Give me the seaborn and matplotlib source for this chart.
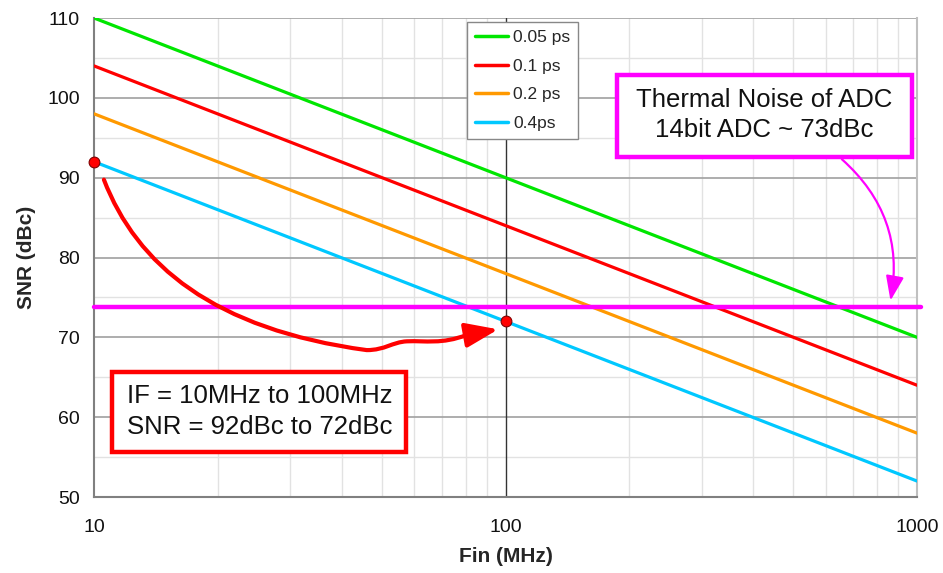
import numpy as np
import pandas as pd
import matplotlib
matplotlib.use("Agg")
import matplotlib.pyplot as plt
import seaborn as sns
from matplotlib.ticker import FixedLocator, NullFormatter
from matplotlib.path import Path
from matplotlib.patches import FancyArrowPatch, Rectangle

# ---- data ----
freq_mhz = [10, 1000]
jitter_labels = ["0.05 ps", "0.1 ps", "0.2 ps", "0.4ps"]
snr_005 = [110, 70]
snr_01 = [104, 64]
snr_02 = [98, 58]
snr_04 = [92, 52]
line_colors = ["#00e600", "#ff0000", "#ff9900", "#00c8ff"]

thermal_noise = 73.8
marker_x = [10, 100]
marker_y = [92, 72]

# hand-drawn annotation curve: bezier vertices (data coordinates)
curve_x = [10.57, 12.7, 19.5, 46.0, 51.0, 53.0, 57.6, 64.0, 70.0, 80.5, 96.0]
curve_y = [89.75, 79.1, 71.0, 68.4, 68.4, 69.4, 69.5, 69.6, 69.1, 70.3, 71.0]

x_ticks = [10, 100, 1000]
x_ticklabels = ["10", "100", "1000"]
y_ticks = [50, 60, 70, 80, 90, 100, 110]

series = [snr_005, snr_01, snr_02, snr_04]
df = pd.DataFrame({
    "Fin": np.tile(freq_mhz, len(series)),
    "SNR": np.concatenate(series),
    "jitter": np.repeat(jitter_labels, len(freq_mhz)),
})

sns.set_style("white")
plt.rcParams["font.family"] = ["Liberation Sans", "DejaVu Sans"]

fig = plt.figure(figsize=(9.43, 5.73), dpi=100)
ax = fig.add_axes([94 / 943, 1 - 497 / 573, 823 / 943, 479 / 573])

ax.set_xscale("log")
ax.set_xlim(10, 1000)
ax.set_ylim(50, 110)

# grids
for v in [55, 65, 75, 85, 95, 105]:
    ax.axhline(v, color="#e2e2e2", lw=1, zorder=0)
for dec in [10, 100]:
    for m in range(2, 10):
        ax.axvline(dec * m, color="#e2e2e2", lw=1, zorder=0)
for v in [60, 70, 80, 90, 100, 110]:
    ax.axhline(v, color="#a0a0a0", lw=1.2, zorder=0.5)
ax.axvline(100, color="#333333", lw=1.0, zorder=0.5)

sns.lineplot(data=df, x="Fin", y="SNR", hue="jitter", hue_order=jitter_labels,
             palette=line_colors, lw=2.3, ax=ax, zorder=3)

ax.axhline(thermal_noise, xmin=0, xmax=1.005, color="#ff00ff", lw=3.2, zorder=4, clip_on=False)

# red hand-drawn arrow along a bezier path
codes = [Path.MOVETO] + [Path.CURVE4] * 9 + [Path.LINETO]
red_path = Path(list(zip(curve_x, curve_y)), codes)
red_arrow = FancyArrowPatch(path=red_path,
                            arrowstyle="-|>,head_length=2.0,head_width=0.75",
                            mutation_scale=10, color="#ff0000", lw=3,
                            transform=ax.transData, zorder=5)
ax.add_patch(red_arrow)

ax.scatter(marker_x, marker_y, s=60, color="#ff0000", edgecolor="#800000",
           linewidth=0.8, zorder=6, clip_on=False)

# magenta curved arrow
ax.annotate("", xy=(862, 74.6), xytext=(657, 92.3),
            arrowprops=dict(arrowstyle="-|>,head_length=1.5,head_width=0.55",
                            color="#ff00ff", lw=1.6, shrinkA=0, shrinkB=0,
                            connectionstyle="arc3,rad=-0.28"),
            zorder=6)

# text boxes
ax.add_patch(Rectangle((0.6355, 0.7098), 0.9939 - 0.6355, 0.881 - 0.7098,
                       transform=ax.transAxes, facecolor="white",
                       edgecolor="#ff00ff", lw=3.2, zorder=7))
ax.text(0.8147, 0.797, "Thermal Noise of ADC\n14bit ADC ~ 73dBc", transform=ax.transAxes,
        ha="center", va="center", fontsize=18.5, linespacing=1.32, color="#111111",
        zorder=8)
ax.add_patch(Rectangle((0.0219, 0.094), 0.379 - 0.0219, 0.261 - 0.094,
                       transform=ax.transAxes, facecolor="white",
                       edgecolor="#ff0000", lw=3.2, zorder=7))
ax.text(0.0397, 0.1785, "IF = 10MHz to 100MHz\nSNR = 92dBc to 72dBc", transform=ax.transAxes,
        ha="left", va="center", fontsize=18.5, linespacing=1.32, color="#111111",
        zorder=8)

# legend
handles, labels = ax.get_legend_handles_labels()
leg = ax.legend(handles, labels, loc="upper left", bbox_to_anchor=(0.4532, 0.9916),
                borderaxespad=0, fontsize=12.5, frameon=True, fancybox=False,
                framealpha=1, edgecolor="#888888", handlelength=1.9,
                labelspacing=0.78, borderpad=0.45, handletextpad=0.3)
leg.get_frame().set_linewidth(1.0)
leg.set_zorder(9)
for h in leg.get_lines():
    h.set_linewidth(2.5)

# axes styling
ax.xaxis.set_major_locator(FixedLocator(x_ticks))
ax.xaxis.set_minor_formatter(NullFormatter())
ax.set_xticks(x_ticks)
ax.set_xticklabels(x_ticklabels)
ax.set_yticks(y_ticks)
ax.tick_params(axis="x", which="minor", length=0)
ax.tick_params(axis="both", which="major", labelsize=14, length=6, width=1,
               color="#888888", labelcolor="#111111", direction="out")
ax.tick_params(axis="x", pad=10)
ax.tick_params(axis="y", pad=4)

for side in ["left", "bottom"]:
    ax.spines[side].set_color("#808080")
    ax.spines[side].set_linewidth(1.5)
ax.spines["right"].set_color("#c0c0c0")
ax.spines["right"].set_linewidth(1.5)
ax.spines["top"].set_visible(False)

ax.set_xlabel("Fin (MHz)", fontsize=15, fontweight="bold", labelpad=8)
ax.set_ylabel("SNR (dBc)", fontsize=15, fontweight="bold", labelpad=8)

fig.savefig("out.png", dpi=100, facecolor="white")
